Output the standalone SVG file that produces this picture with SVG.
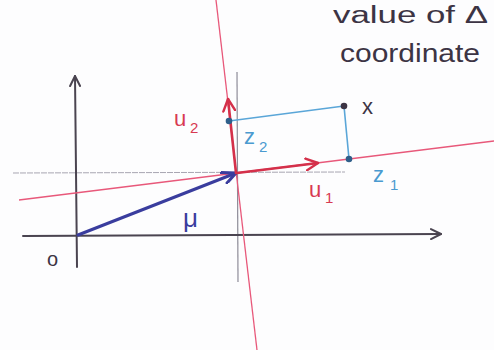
<svg xmlns="http://www.w3.org/2000/svg" width="494" height="350" viewBox="0 0 494 350">
<style>
.ax{stroke:#4a4450;stroke-width:2;fill:none;stroke-linecap:round}
.guide{stroke:#a8a6b2;stroke-width:1;fill:none;stroke-dasharray:6 1}
.gv{stroke:#8e8c98;stroke-width:1.2;fill:none}
.rthin{stroke:#e8587a;stroke-width:1.3;fill:none}
.rvec{stroke:#d4304a;stroke-width:2.6;fill:none;stroke-linecap:round}
.bvec{stroke:#3a3d9e;stroke-width:3;fill:none;stroke-linecap:round}
.proj{stroke:#5aa6d8;stroke-width:1.6;fill:none}
.t{font-family:"Liberation Sans","DejaVu Sans",sans-serif}
.red{fill:#d83a52}
.blue{fill:#4a9ad0}
.dark{fill:#3c3444}
</style>
<defs>
<marker id="ah" viewBox="0 0 12 12" refX="11" refY="6" markerWidth="12" markerHeight="12" markerUnits="userSpaceOnUse" orient="auto">
<path d="M1,1 L11,6 L1,11" fill="none" stroke="#4a4450" stroke-width="2" stroke-linecap="round" stroke-linejoin="round"/>
</marker>
<marker id="ahr" viewBox="0 0 14 14" refX="13" refY="7" markerWidth="14" markerHeight="14" markerUnits="userSpaceOnUse" orient="auto">
<path d="M1,1 L13,7 L1,13" fill="none" stroke="#d4304a" stroke-width="2.4" stroke-linecap="round" stroke-linejoin="round"/>
</marker>
<marker id="ahb" viewBox="0 0 16 14" refX="15" refY="7" markerWidth="16" markerHeight="14" markerUnits="userSpaceOnUse" orient="auto">
<path d="M1,1 L15,7 L3,13" fill="none" stroke="#3a3d9e" stroke-width="3" stroke-linecap="round" stroke-linejoin="round"/>
</marker>
</defs>
<rect width="494" height="350" fill="#fdfdfe"/>
<g id="connectors">
<line class="guide" x1="13" y1="173" x2="345" y2="172"/>
<line class="gv" x1="237" y1="72" x2="238" y2="282"/>
<line class="ax" x1="77" y1="267" x2="75" y2="76" marker-end="url(#ah)"/>
<line class="ax" x1="23" y1="236" x2="441" y2="234" marker-end="url(#ah)"/>
<line class="rthin" x1="19" y1="200" x2="494" y2="141"/>
<line class="rthin" x1="216" y1="0" x2="257" y2="350"/>
<line class="proj" x1="229" y1="121" x2="344" y2="106"/>
<line class="proj" x1="344" y1="106" x2="349" y2="159"/>
<line class="bvec" x1="78" y1="235" x2="236" y2="173" marker-end="url(#ahb)"/>
<line class="rvec" x1="237" y1="173" x2="318" y2="163" marker-end="url(#ahr)"/>
<line class="rvec" x1="236" y1="173" x2="228" y2="99" marker-end="url(#ahr)"/>
</g>
<g id="x">
<circle cx="344" cy="106" r="3.3" fill="#3c3444"/>
<text class="t dark" x="362" y="114" font-size="22">x</text>
</g>
<g id="z1">
<circle cx="349" cy="159" r="3.3" fill="#2f5f8a"/>
<text class="t blue" x="373" y="182" font-size="22">z</text>
<text class="t blue" x="390" y="190" font-size="15">1</text>
</g>
<g id="z2">
<circle cx="229" cy="121" r="3.3" fill="#2f5f8a"/>
<text class="t blue" x="244" y="144" font-size="22">z</text>
<text class="t blue" x="259" y="152" font-size="15">2</text>
</g>
<g id="u1">
<text class="t red" x="309" y="197" font-size="22">u</text>
<text class="t red" x="325" y="203" font-size="15">1</text>
</g>
<g id="u2">
<text class="t red" x="174" y="126" font-size="22">u</text>
<text class="t red" x="190" y="133" font-size="15">2</text>
</g>
<g id="mu">
<text class="t" fill="#3a3d9e" x="183" y="227" font-size="26">μ</text>
</g>
<g id="origin">
<text class="t dark" x="47" y="266" font-size="20">o</text>
</g>
<g id="caption">
<text class="t dark" x="333" y="23" font-size="23" textLength="155" lengthAdjust="spacingAndGlyphs">value of Δ</text>
<text class="t dark" x="340" y="62" font-size="26" textLength="140" lengthAdjust="spacingAndGlyphs">coordinate</text>
</g>
</svg>
